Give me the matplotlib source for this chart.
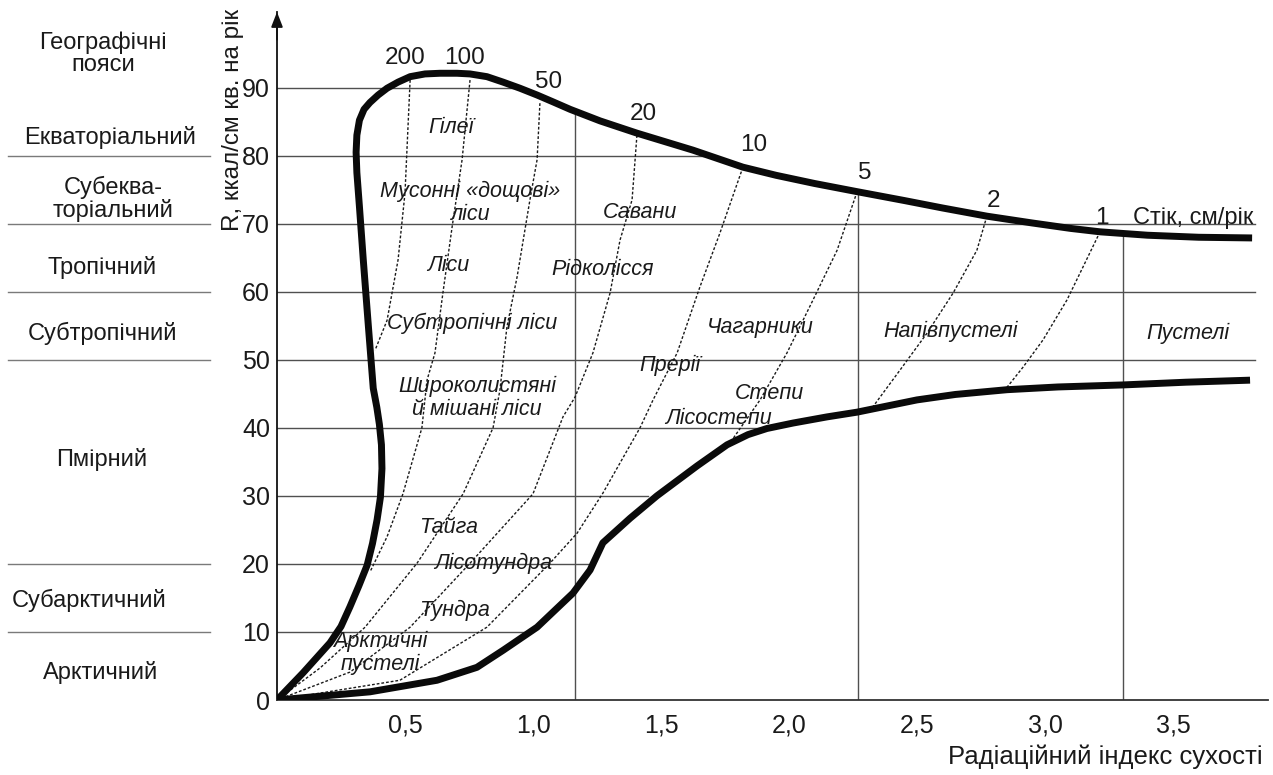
import numpy as np
import matplotlib.pyplot as plt
from matplotlib.transforms import blended_transform_factory

plt.rcParams['font.family'] = ['Liberation Sans', 'DejaVu Sans']

# outer (upper) envelope: humid limit + top of the diagram
upper_x = [0, 0.102, 0.207, 0.250, 0.285, 0.320, 0.352, 0.373, 0.391, 0.404, 0.410,
           0.408, 0.400, 0.390, 0.376, 0.357, 0.337, 0.322, 0.312, 0.309, 0.312,
           0.322, 0.340, 0.363, 0.395, 0.430, 0.473, 0.520, 0.578, 0.637, 0.703,
           0.754, 0.820, 0.883, 0.949, 1.016, 1.078, 1.145, 1.262, 1.406, 1.625,
           1.820, 1.950, 2.100, 2.266, 2.450, 2.600, 2.773, 2.950, 3.100, 3.215,
           3.400, 3.600, 3.809]
upper_y = [0, 4.0, 8.4, 10.8, 13.7, 16.8, 19.8, 23.0, 26.5, 29.8, 34.0,
           37.5, 40.5, 43.0, 45.8, 54.9, 64.7, 72.5, 77.5, 80.5, 83.0,
           85.2, 86.8, 87.8, 88.9, 89.9, 90.8, 91.6, 92.0, 92.1, 92.1,
           92.0, 91.6, 90.8, 89.9, 88.9, 87.9, 86.8, 85.1, 83.3, 80.8,
           78.3, 77.1, 75.9, 74.7, 73.4, 72.3, 71.1, 70.1, 69.3, 68.8,
           68.3, 68.0, 67.9]

# lower envelope
lower_x = [0, 0.363, 0.625, 0.781, 0.883, 1.016, 1.156, 1.223, 1.273, 1.379,
           1.484, 1.641, 1.758, 1.840, 1.914, 2.016, 2.148, 2.266, 2.500, 2.650,
           2.852, 3.050, 3.305, 3.550, 3.801]
lower_y = [0, 1.2, 2.9, 4.8, 7.3, 10.7, 15.7, 19.1, 23.1, 26.7,
           30.0, 34.4, 37.5, 39.0, 39.9, 40.7, 41.6, 42.3, 44.1, 44.9,
           45.6, 46.0, 46.3, 46.7, 47.0]

# runoff isolines, cm/year
iso200_x = [0.520, 0.500, 0.473, 0.430, 0.383]
iso200_y = [91.1, 74.5, 64.7, 55.8, 51.4]
iso100_x = [0.754, 0.723, 0.684, 0.648, 0.617, 0.586, 0.566, 0.492, 0.430, 0.363]
iso100_y = [91.1, 79.4, 69.5, 59.8, 51.0, 47.0, 40.0, 30.3, 24.0, 18.8]
iso50_x = [1.027, 1.016, 0.988, 0.938, 0.898, 0.871, 0.844, 0.727, 0.547, 0.344, 0.168, 0]
iso50_y = [87.7, 79.4, 73.5, 62.2, 54.8, 45.6, 40.0, 30.3, 20.1, 10.7, 4.7, 0]
iso20_x = [1.406, 1.387, 1.340, 1.301, 1.234, 1.164, 1.117, 1.000, 0.754, 0.520, 0.285, 0]
iso20_y = [83.0, 73.5, 67.6, 59.8, 51.0, 44.5, 41.6, 30.3, 20.1, 10.7, 4.1, 0]
iso10_x = [1.820, 1.730, 1.652, 1.563, 1.469, 1.418, 1.273, 1.172, 1.066, 0.820, 0.480, 0]
iso10_y = [78.3, 68.6, 60.7, 51.0, 44.1, 40.0, 30.4, 24.5, 20.1, 10.7, 2.9, 0]
iso5_x = [2.266, 2.188, 2.094, 1.992, 1.887, 1.770]
iso5_y = [74.7, 66.1, 58.8, 51.0, 44.1, 37.8]
iso2_x = [2.773, 2.734, 2.641, 2.539, 2.434, 2.328]
iso2_y = [71.1, 66.1, 59.8, 53.9, 48.5, 43.1]
iso1_x = [3.215, 3.148, 3.086, 2.992, 2.914, 2.844]
iso1_y = [68.8, 63.6, 58.8, 52.9, 48.9, 45.6]

runoff_labels = ['200', '100', '50', '20', '10', '5', '2', '1']

# grid lines and where each one stops
grid_y = [10, 20, 30, 40, 50, 60, 70, 80, 90]
grid_xend = [0.98, 1.215, 1.449, 1.90, 3.82, 3.82, 3.82, 1.70, 0.92]

# boundaries between vegetation zones (radiative dryness index)
zone_x = [1.164, 2.270, 3.305]

belt_names = ['Географічні\nпояси', 'Екваторіальний', 'Субеква-\nторіальний', 'Тропічний',
              'Субтропічний', 'Пмірний', 'Субарктичний', 'Арктичний']
belt_bounds = [80, 70, 60, 50, 20, 10]

xticks = [0.5, 1.0, 1.5, 2.0, 2.5, 3.0, 3.5]
xtick_labels = ['0,5', '1,0', '1,5', '2,0', '2,5', '3,0', '3,5']
yticks = [0, 10, 20, 30, 40, 50, 60, 70, 80, 90]

fig = plt.figure(figsize=(12.73, 7.75), dpi=100)
ax = fig.add_axes([277 / 1273, 75 / 775, 991 / 1273, 688 / 775])
ax.set_xlim(0, 991 / 256)
ax.set_ylim(0, 688 / 6.805)

for s in ['top', 'right']:
    ax.spines[s].set_visible(False)
ax.spines['left'].set_linewidth(1.3)
ax.spines['left'].set_color('#111111')
ax.spines['bottom'].set_linewidth(1.3)
ax.spines['bottom'].set_color('#333333')
ax.annotate('', xy=(0, 1.0), xytext=(0, 0.96), xycoords='axes fraction',
            arrowprops=dict(arrowstyle='-|>,head_length=0.9,head_width=0.35',
                            color='#111111', lw=1.3, shrinkA=0, shrinkB=0),
            annotation_clip=False)

ax.set_xticks(xticks)
ax.set_xticklabels(xtick_labels)
ax.set_yticks(yticks)
ax.tick_params(axis='both', length=0, labelsize=18, labelcolor='#1a1a1a')
ax.tick_params(axis='y', pad=5)
ax.tick_params(axis='x', pad=10)

grid_kw = dict(color='#505050', lw=1.0, zorder=1)
for gy, xe in zip(grid_y, grid_xend):
    ax.plot([0, xe], [gy, gy], **grid_kw)

# vertical boundaries reach up to the right branch of the upper curve
peak = int(np.argmax(upper_y))
for zx in zone_x:
    top = np.interp(zx, upper_x[peak:], upper_y[peak:])
    ax.plot([zx, zx], [0, top], **grid_kw)

dot_kw = dict(color='#1a1a1a', lw=1.0, ls=(0, (2, 1.4)), zorder=2)
iso_lines = [(iso200_x, iso200_y), (iso100_x, iso100_y), (iso50_x, iso50_y),
             (iso20_x, iso20_y), (iso10_x, iso10_y), (iso5_x, iso5_y),
             (iso2_x, iso2_y), (iso1_x, iso1_y)]
for xs, ys in iso_lines:
    ax.plot(xs, ys, **dot_kw)

ax.plot(upper_x, upper_y, color='#0a0a0a', lw=5, solid_capstyle='butt',
        solid_joinstyle='round', zorder=4)
ax.plot(lower_x, lower_y, color='#0a0a0a', lw=5, solid_capstyle='butt',
        solid_joinstyle='round', zorder=4)

# runoff labels at the upper ends of the isolines
label_pos = [(0.50, 94.4), (0.734, 94.4), (1.059, 90.8), (1.430, 86.1),
             (1.863, 81.5), (2.297, 77.4), (2.797, 73.3), (3.223, 70.9)]
for lab, (lx, ly) in zip(runoff_labels, label_pos):
    ax.text(lx, ly, lab, fontsize=17.5, ha='center', va='center', color='#1a1a1a')
ax.text(3.344, 70.9, 'Стік, см/рік', fontsize=17, ha='left', va='center', color='#1a1a1a')

zones = [('Гілеї', 0.680, 84.2), ('Мусонні «дощові»\nліси', 0.754, 73.0),
         ('Ліси', 0.668, 63.9), ('Рідколісся', 1.270, 63.2), ('Савани', 1.418, 71.7),
         ('Субтропічні ліси', 0.762, 55.3), ('Широколистяні\nй мішані ліси', 0.781, 44.4),
         ('Тайга', 0.672, 25.4), ('Лісотундра', 0.844, 20.1), ('Тундра', 0.695, 13.2),
         ('Арктичні\nпустелі', 0.402, 6.9), ('Прерії', 1.535, 49.2),
         ('Чагарники', 1.887, 54.7), ('Степи', 1.922, 45.0), ('Лісостепи', 1.723, 41.3),
         ('Напівпустелі', 2.633, 54.2), ('Пустелі', 3.559, 53.8)]
for name, zx_, zy_ in zones:
    ax.text(zx_, zy_, name, fontsize=15.5, style='italic', ha='center', va='center',
            color='#1a1a1a', linespacing=1.1, zorder=3)

# left column: geographic belts
bt = blended_transform_factory(fig.transFigure, ax.transData)
belt_pos = [(103, 95.0), (110, 82.7), (113, 73.6), (102, 63.6), (102, 53.9),
            (102, 35.3), (89, 14.7), (101, 4.1)]
for name, (bx, by) in zip(belt_names, belt_pos):
    ax.text(bx / 1273, by, name, transform=bt, fontsize=17, ha='center', va='center',
            color='#1a1a1a', linespacing=1.0, clip_on=False)
for b in belt_bounds:
    ax.plot([8 / 1273, 210 / 1273], [b, b], transform=bt, color='#7a7a7a', lw=1.0,
            clip_on=False)

ax.text(233 / 1273, 85.2, 'R, ккал/см кв. на рік', transform=bt, rotation=90,
        fontsize=17.5, ha='center', va='center', color='#1a1a1a', clip_on=False)
fig.text(1263 / 1273, 1 - 757 / 775, 'Радіаційний індекс сухості', fontsize=18.5,
         ha='right', va='center', color='#1a1a1a')

fig.savefig('out.png', dpi=100)
